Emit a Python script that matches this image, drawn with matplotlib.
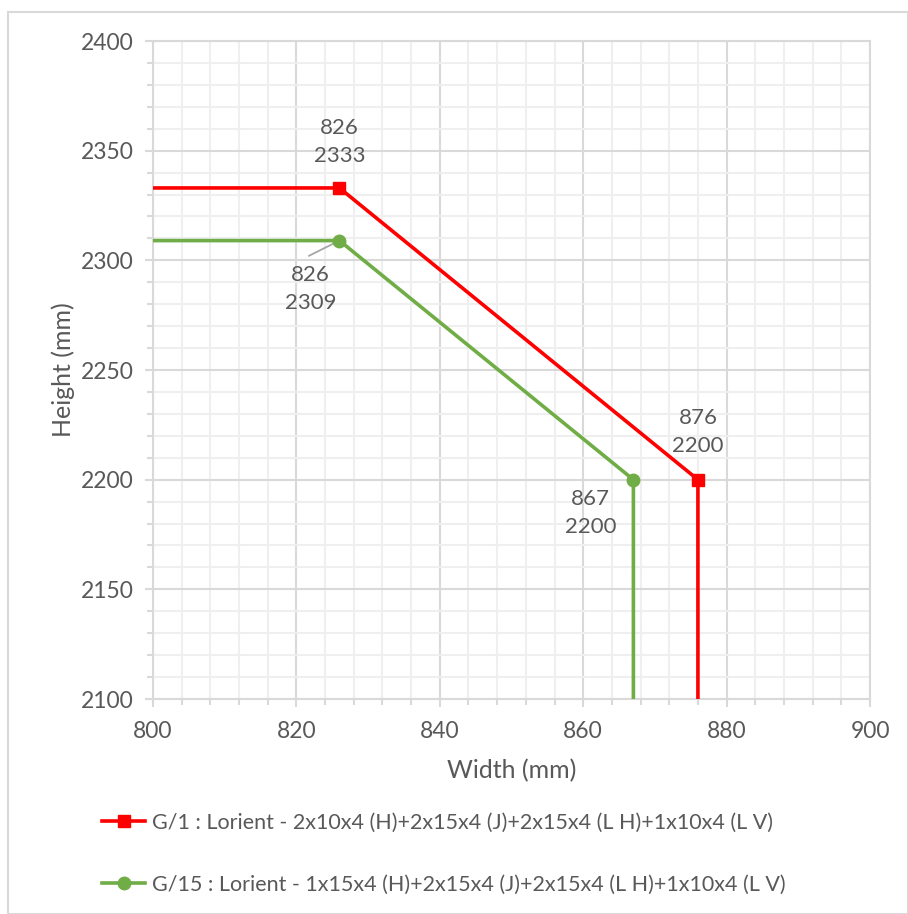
import matplotlib.pyplot as plt
import matplotlib.ticker as plticker
from matplotlib.patches import Rectangle

# data
g1_w = [800, 826, 876, 876]
g1_h = [2333, 2333, 2200, 2100]
g1_pts_w = [826, 876]
g1_pts_h = [2333, 2200]

g15_w = [800, 826, 867, 867]
g15_h = [2309, 2309, 2200, 2100]
g15_pts_w = [826, 867]
g15_pts_h = [2309, 2200]

g1_label = "G/1 : Lorient - 2x10x4 (H)+2x15x4 (J)+2x15x4 (L H)+1x10x4 (L V)"
g15_label = "G/15 : Lorient - 1x15x4 (H)+2x15x4 (J)+2x15x4 (L H)+1x10x4 (L V)"

RED = '#ff0000'
GREEN = '#70ad47'
TXT = '#595959'
GRID = '#d9d9d9'

plt.rcParams['font.family'] = ['Lato', 'DejaVu Sans']

W, H = 908, 914
fig = plt.figure(figsize=(W/100, H/100), dpi=100)
fig.patches.append(Rectangle((8/W, 0), 1 - 8/W, 1 - 12/H, transform=fig.transFigure,
                             fill=False, edgecolor='#d9d9d9', linewidth=1.5))

ax = fig.add_axes([153/W, 1 - 699/H, (870-153)/W, (699-41)/H])

ax.plot(g1_w, g1_h, color=RED, linewidth=2.6, zorder=3)
ax.plot(g1_pts_w, g1_pts_h, 's', color=RED, markersize=9, zorder=4)
ax.plot(g15_w, g15_h, color=GREEN, linewidth=2.6, zorder=3)
ax.plot(g15_pts_w, g15_pts_h, 'o', color=GREEN, markersize=9, zorder=4)

ax.set_xlim(800, 900)
ax.set_ylim(2100, 2400)
ax.xaxis.set_major_locator(plticker.MultipleLocator(20))
ax.xaxis.set_minor_locator(plticker.MultipleLocator(4))
ax.yaxis.set_major_locator(plticker.MultipleLocator(50))
ax.yaxis.set_minor_locator(plticker.MultipleLocator(10))
ax.grid(True, which='major', color=GRID, linewidth=1.5, zorder=0)
ax.grid(True, which='minor', color='#efefef', linewidth=1.5, zorder=0)
ax.set_axisbelow(True)

for s in ax.spines.values():
  s.set_color(GRID)
  s.set_linewidth(1.5)
ax.tick_params(which='both', colors=GRID, labelcolor=TXT, labelsize=16.5, width=1.5)
ax.tick_params(which='major', length=6)
ax.tick_params(axis='x', which='major', pad=10)
ax.tick_params(axis='y', which='major', pad=8)
ax.tick_params(which='minor', length=4)

ax.set_xlabel("Width (mm)", fontsize=18, color=TXT, labelpad=12)
ax.set_ylabel("Height (mm)", fontsize=18, color=TXT, labelpad=4)

# point labels
lab_kw = dict(fontsize=16, color=TXT, ha='center', va='center', linespacing=1.5)
ax.annotate("826\n2333", xy=(826, 2333), xytext=(0, 33), textcoords='offset points', **lab_kw)
ax.annotate("876\n2200", xy=(876, 2200), xytext=(0, 34), textcoords='offset points', **lab_kw)
ax.annotate("867\n2200", xy=(867, 2200), xytext=(-31, -24), textcoords='offset points', **lab_kw)
ax.annotate("826\n2309", xy=(826, 2309), xytext=(-21, -35), textcoords='offset points', **lab_kw)
# leader line for the 826/2309 label
ax.annotate("", xy=(826, 2309), xytext=(-22, -11), textcoords='offset points',
            arrowprops=dict(arrowstyle='-', color='#a6a6a6', linewidth=1.3, shrinkA=0, shrinkB=2))

# legend drawn below the plot
h1, = ax.plot([], [], color=RED, linewidth=2.6, marker='s', markersize=9)
h2, = ax.plot([], [], color=GREEN, linewidth=2.6, marker='o', markersize=9)
leg = fig.legend([h1, h2], [g1_label, g15_label], loc='upper left',
                 bbox_to_anchor=(83/W, 1 - 793/H), frameon=False, fontsize=15.5,
                 labelcolor=TXT, handlelength=2.0, handletextpad=0.3, labelspacing=1.98)

fig.savefig("out.png", dpi=100)
